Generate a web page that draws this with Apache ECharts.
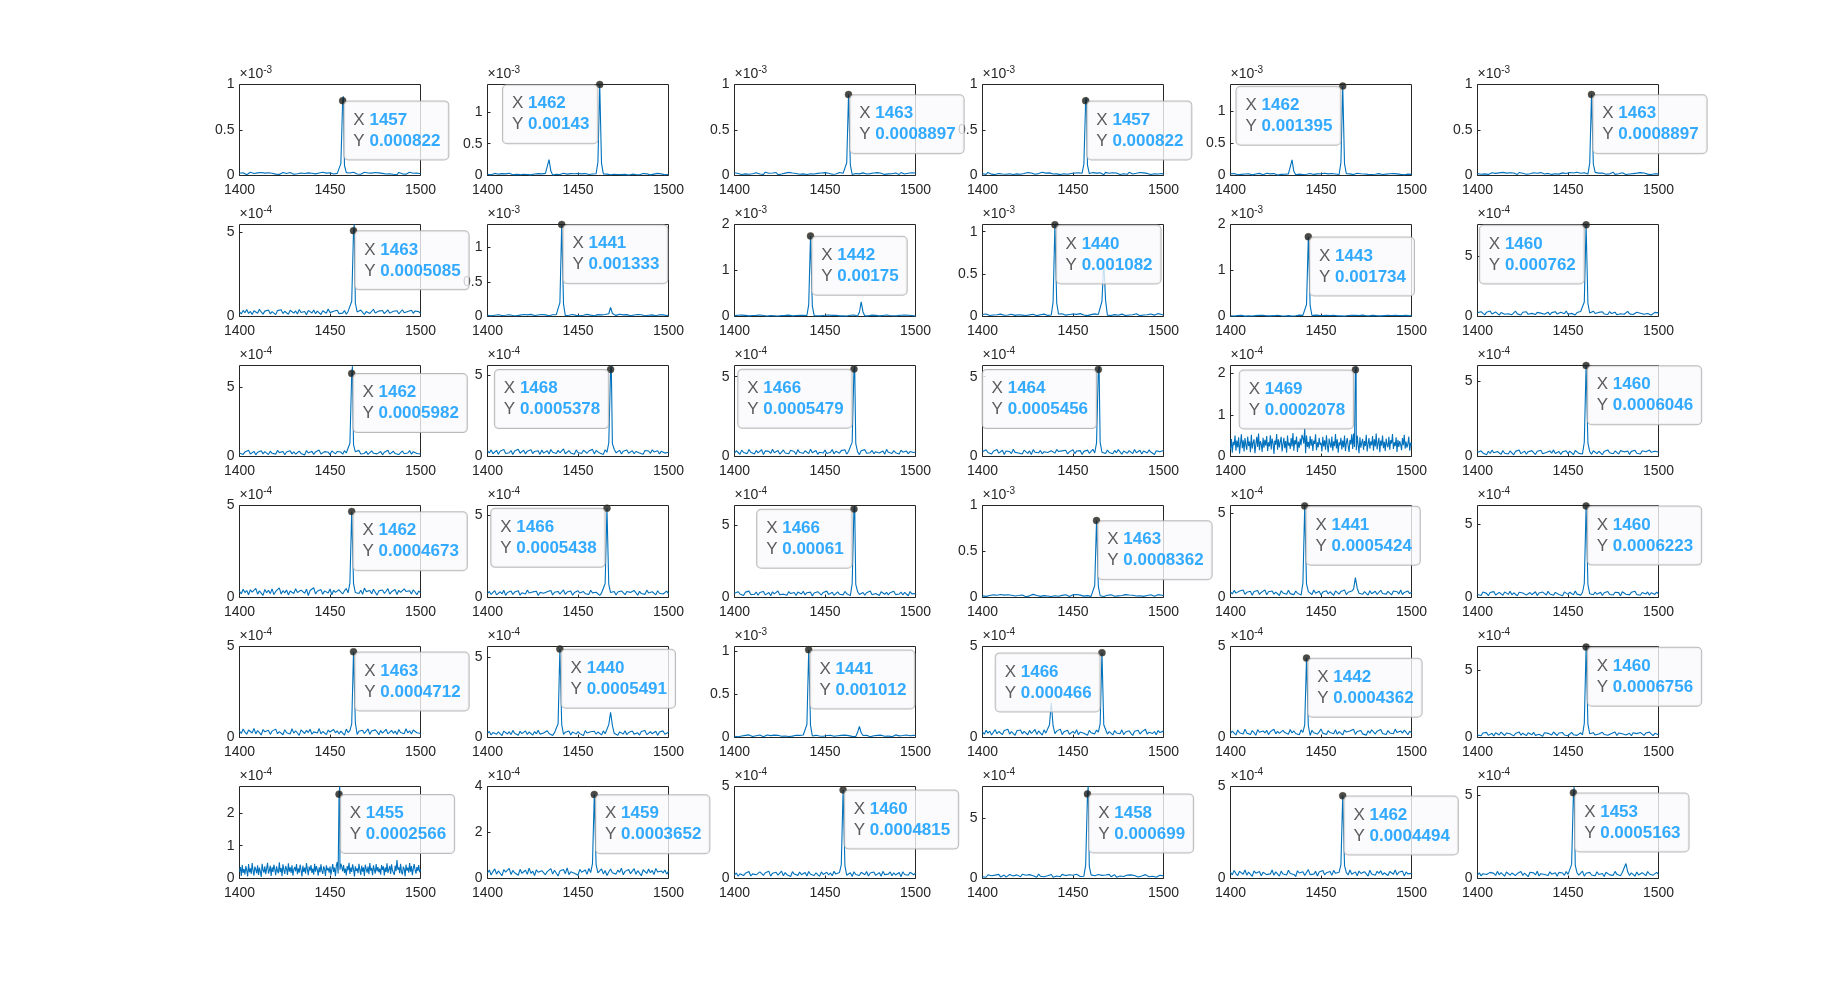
<!DOCTYPE html>
<html><head><meta charset="utf-8">
<script src="https://cdn.jsdelivr.net/npm/echarts@6/dist/echarts.min.js"></script>
<style>html,body{margin:0;padding:0;background:#fff}#c{width:1840px;height:986px}</style>
</head><body><div id="c"></div>
<script>
// ---------------- DATA ----------------
const xStart = 1400;            // first x of every noise array
const noiseStep = [1,1,1,1,1,1, 1,1,1,1,1,1, 1,1,1,1,0.5,1, 1,1,1,1,1,1, 1,1,1,1,1,1, 0.5,1,1,1,1,1];
const xMin = 1400, xMax = 1500, xStep = 50;
const tipX = [1457,1462,1463,1457,1462,1463, 1463,1441,1442,1440,1443,1460, 1462,1468,1466,1464,1469,1460, 1462,1466,1466,1463,1441,1460, 1463,1440,1441,1466,1442,1460, 1455,1459,1460,1458,1462,1453];
const tipY = [0.000822,0.00143,0.0008897,0.000822,0.001395,0.0008897, 0.0005085,0.001333,0.00175,0.001082,0.001734,0.000762, 0.0005982,0.0005378,0.0005479,0.0005456,0.0002078,0.0006046, 0.0004673,0.0005438,0.00061,0.0008362,0.0005424,0.0006223, 0.0004712,0.0005491,0.001012,0.000466,0.0004362,0.0006756, 0.0002566,0.0003652,0.0004815,0.000699,0.0004494,0.0005163];
const yExp = [-3,-3,-3,-3,-3,-3, -4,-3,-3,-3,-3,-4, -4,-4,-4,-4,-4,-4, -4,-4,-4,-3,-4,-4, -4,-4,-3,-4,-4,-4, -4,-4,-4,-4,-4,-4];
const yMax = [1e-3,1.43e-3,1e-3,1e-3,1.42e-3,1e-3, 5.45e-4,1.333e-3,2e-3,1.085e-3,2e-3,7.65e-4, 6.55e-4,5.62e-4,5.7e-4,5.7e-4,2.18e-4,6.05e-4, 5e-4,5.6e-4,6.35e-4,1e-3,5.45e-4,6.25e-4, 5e-4,5.65e-4,1.05e-3,5e-4,5e-4,6.8e-4, 2.8e-4,4e-4,5e-4,7.6e-4,5e-4,5.54e-4];
const yTickLabels = [
 [0,0.5,1],[0,0.5,1],[0,0.5,1],[0,0.5,1],[0,0.5,1],[0,0.5,1],
 [0,5],[0,0.5,1],[0,1,2],[0,0.5,1],[0,1,2],[0,5],
 [0,5],[0,5],[0,5],[0,5],[0,1,2],[0,5],
 [0,5],[0,5],[0,5],[0,0.5,1],[0,5],[0,5],
 [0,5],[0,5],[0,0.5,1],[0,5],[0,5],[0,5],
 [0,1,2],[0,2,4],[0,5],[0,5],[0,5],[0,5]];
// peak shoulders / secondary peaks, [x, value in 1e-6]
const bumps = [
 [[1456,130],[1457.4,870],[1458,110]],
 [[1461,210],[1463,190],[1433,60],[1434,250],[1435,70]],
 [[1462,140],[1464,120]],
 [[1456,125],[1457.4,860],[1458,115]],
 [[1461,200],[1462.4,1420],[1463,180],[1433,55],[1434,245],[1435,65]],
 [[1462,135],[1464,125]],
 [[1462,90],[1463.4,545],[1464,80]],
 [[1440,200],[1442,180],[1467,40],[1468,130],[1469,45]],
 [[1441,260],[1443,230],[1469,90],[1470,320],[1471,100]],
 [[1439,170],[1441,160],[1466,180],[1467,650],[1468,190]],
 [[1442,260],[1444,240]],
 [[1459,120],[1461,110]],
 [[1461,95],[1462.4,650],[1463,85]],
 [[1467,85],[1468.4,560],[1469,80]],
 [[1465,90],[1466.4,565],[1467,80]],
 [[1463,85],[1464.4,565],[1465,90]],
 [[1468,55],[1469.4,216],[1470,50],[1440,45],[1441,68],[1442,50]],
 [[1459,95],[1461,90]],
 [[1461,80],[1463,75]],
 [[1465,85],[1467,80]],
 [[1465,95],[1466.4,630],[1467,90]],
 [[1462,130],[1464,120]],
 [[1440,85],[1442,80],[1468,50],[1469,118],[1470,55]],
 [[1459,95],[1461,90]],
 [[1462,75],[1464,80]],
 [[1439,85],[1441,80],[1467,80],[1468,157],[1469,75]],
 [[1440,150],[1442,140],[1468,60],[1469,127],[1470,55]],
 [[1465,75],[1467,70],[1437,70],[1438,190],[1439,65]],
 [[1441,70],[1443,65]],
 [[1459,105],[1461,100]],
 [[1454,50],[1455.4,280],[1456,45]],
 [[1458,65],[1460,60]],
 [[1459,75],[1461,70]],
 [[1457,110],[1458.4,760],[1459,100]],
 [[1461,75],[1463,70]],
 [[1452,85],[1453.4,550],[1454,80],[1481,40],[1482,90],[1483,40]]];
// baseline noise, values in 1e-6, x = 1400 .. 1500
const n01=[24,13,31,18,9,27,35,16,22,11,29,20,33,14,26,10,30,19,25,37,15,23,12,28,34,17,21,8,32,26,14,30,19,11,27,36,22,16,29,13,24,33,18,10,28,21,35,15,26,12,31,20,17,34,23,9,29,25,14,32,19,27,11,36,22,16,30,13,24,35,18,28,10,26,21,33,15,29,12,23,37,17,25,20,31,14,27,9,34,22,18,30,13,26,35,16,24,11,28,21,19];
const n02=[17,29,12,25,33,15,21,9,30,19,26,14,34,22,11,28,18,32,13,24,20,35,16,27,10,31,23,14,29,18,25,12,33,21,16,28,9,26,19,30,14,24,36,17,22,11,29,20,27,13,32,18,25,10,30,21,15,34,23,12,27,19,31,14,26,17,22,35,11,28,20,33,16,24,13,29,18,30,9,25,21,34,15,27,12,23,31,17,26,19,10,28,22,14,33,18,25,30,13,24,20];
const n03=[30,14,22,35,11,26,18,32,13,27,20,9,31,24,16,29,12,36,19,25,14,28,21,33,10,23,17,30,26,12,34,19,27,15,22,37,13,29,18,24,11,31,20,26,16,35,23,10,28,19,32,14,25,21,13,30,17,27,33,12,24,20,36,15,28,11,26,22,31,18,13,29,24,16,34,21,10,27,19,32,15,25,30,12,23,18,35,20,14,28,26,11,33,22,17,29,24,13,31,19,27];
const n04=[19,28,12,34,23,15,30,10,26,21,33,16,24,13,29,20,36,11,27,18,31,14,25,22,9,32,17,28,24,13,30,21,15,35,19,26,12,29,23,16,34,18,27,10,31,20,25,14,33,22,11,28,19,30,16,24,36,13,27,21,15,32,18,26,12,29,23,9,34,20,25,17,31,14,28,22,11,30,19,26,13,35,21,16,27,24,12,33,18,29,15,23,31,10,26,20,34,17,28,22,14];
const n05=[26,15,32,20,11,29,17,34,23,13,28,19,10,31,24,16,33,21,12,27,35,18,25,14,30,22,9,28,17,33,20,13,26,31,16,24,11,29,21,34,15,27,19,12,32,23,17,30,25,10,28,20,35,14,26,18,31,13,24,29,16,22,33,11,27,19,25,30,14,21,34,17,28,12,23,31,18,26,15,32,20,10,29,24,16,33,22,13,27,19,30,14,25,35,18,23,12,28,21,31,17];
const n06=[21,32,14,27,18,35,12,25,30,16,23,10,29,20,34,15,26,19,31,13,28,22,11,33,17,24,36,14,27,20,9,30,18,25,13,32,21,16,28,23,34,12,26,19,31,15,24,29,11,22,17,33,20,27,14,36,18,25,12,30,23,16,29,21,10,34,19,26,15,28,22,13,31,18,25,35,12,27,20,16,30,24,11,29,17,33,21,14,26,19,32,13,28,23,15,30,10,25,20,34,18];
const n07=[28,15,36,22,41,18,30,12,34,25,19,43,27,14,32,21,38,16,29,24,11,35,26,40,17,31,22,13,37,28,20,33,15,42,24,18,30,10,36,27,21,39,16,32,25,12,34,29,19,44,23,14,31,26,37,17,28,20,35,13,30,41,22,16,33,27,19,38,24,12,29,35,18,26,43,21,15,32,28,36,17,24,39,20,13,31,27,34,16,25,40,22,11,30,26,37,19,33,23,29,18];
const n08=[16,24,11,28,19,9,26,21,14,30,18,12,25,33,15,22,10,27,20,13,29,17,24,8,31,19,14,26,22,11,28,16,23,30,12,20,25,9,27,18,15,32,21,13,26,19,11,29,23,16,24,10,28,17,22,31,14,20,26,12,19,27,15,23,9,30,18,25,13,21,28,16,11,33,20,24,14,27,19,10,26,22,17,29,13,25,21,12,31,18,15,24,28,11,20,26,16,23,30,14,19];
const n09=[20,12,27,16,30,10,24,19,14,28,22,9,25,17,31,13,21,26,11,29,18,23,15,32,12,27,20,16,24,10,30,19,13,26,22,8,28,17,25,14,21,31,11,23,18,27,15,29,20,12,26,16,33,19,24,10,28,22,14,30,17,25,12,21,27,15,31,18,9,24,20,28,13,26,16,22,30,11,25,19,14,29,23,17,32,12,21,27,15,24,18,10,26,20,31,13,28,16,22,25,11];
const n10=[23,14,30,19,11,27,17,33,21,12,28,24,15,31,18,9,26,22,13,29,20,34,16,25,12,30,19,23,27,14,10,32,21,17,28,24,13,31,18,26,15,22,29,11,33,20,16,27,23,12,30,19,25,14,34,21,17,28,10,26,22,15,31,18,24,29,13,27,20,16,33,11,25,22,30,14,19,28,24,12,31,17,26,21,15,32,23,10,29,18,25,20,13,30,27,16,22,34,19,24,14];
const n11=[15,22,10,27,18,13,25,20,8,28,17,23,12,29,19,14,26,11,24,21,16,30,13,22,18,9,27,20,15,25,12,28,19,23,10,26,17,21,29,14,24,11,20,27,16,22,13,30,18,25,9,23,19,28,15,21,12,26,24,17,29,14,20,11,27,22,16,25,13,28,18,23,10,30,21,15,26,19,12,24,27,17,22,14,29,20,11,25,18,23,16,28,13,21,26,19,10,24,22,15,20];
const n12=[32,18,40,25,14,36,28,45,21,17,38,26,12,33,42,19,29,23,37,15,31,44,22,27,13,35,24,39,18,30,26,41,16,34,21,28,43,19,25,36,14,32,27,40,20,17,35,29,23,46,18,31,26,38,13,33,22,42,28,16,37,24,30,19,44,25,15,34,27,39,21,32,17,41,24,28,36,14,30,23,38,19,26,43,22,33,16,29,35,20,27,40,18,31,25,37,13,28,34,22,30];
const n13=[26,40,15,33,22,45,18,29,37,12,31,24,42,19,35,27,14,38,23,30,17,44,28,21,36,13,32,25,41,19,34,16,27,39,22,30,11,43,26,20,37,15,33,28,46,18,24,35,21,31,14,40,27,19,36,23,32,16,42,25,29,20,38,13,34,26,44,18,30,22,37,15,28,41,24,33,19,27,36,12,31,23,45,17,29,38,21,34,14,26,40,20,32,25,43,16,35,28,22,30,18];
const n14=[35,22,41,17,29,38,14,32,26,44,19,30,23,37,12,34,27,45,20,28,39,16,33,24,42,18,31,25,36,13,40,21,29,35,15,43,26,32,19,38,23,30,47,17,27,36,22,33,14,41,25,31,18,39,28,20,34,24,44,16,37,29,21,32,13,42,26,35,19,30,45,23,28,38,15,33,24,40,20,27,36,17,31,43,22,29,14,37,25,34,19,41,28,23,35,16,32,44,21,30,26];
const n15=[21,36,28,14,40,25,33,18,44,27,31,16,38,23,29,42,12,35,26,32,19,45,24,30,37,15,28,41,22,34,17,39,27,31,13,43,25,33,20,36,29,18,46,24,32,38,14,27,35,22,40,19,30,26,44,16,33,28,21,37,25,42,15,31,23,39,18,34,29,12,36,27,43,20,32,24,38,17,30,41,22,28,35,14,45,26,33,19,37,24,30,16,40,27,22,34,18,31,39,25,28];
const n16=[30,19,42,25,36,15,33,27,44,21,28,39,13,34,24,31,18,45,26,37,22,29,16,40,32,20,35,12,43,27,33,23,38,17,30,41,25,14,36,28,21,44,31,19,35,26,39,16,29,23,42,18,34,27,37,13,32,24,40,20,30,45,22,28,15,36,26,33,19,41,25,31,17,38,23,43,29,14,35,27,20,37,32,18,44,24,30,39,16,34,26,22,41,28,33,13,36,25,30,19,38];
const n17=[18,42,9,35,27,50,14,38,22,46,7,31,53,20,39,12,44,28,16,48,25,36,10,52,19,33,41,8,29,47,23,55,15,37,30,11,45,21,40,26,49,13,34,24,51,17,43,32,6,38,28,54,16,41,22,35,47,12,30,45,20,37,9,50,26,33,18,44,24,56,14,39,29,48,11,36,21,43,27,52,17,31,46,8,40,23,35,19,49,26,42,13,38,30,53,15,34,22,45,28,33,12,47,24,39,16,51,27,10,43,30,21,48,14,36,25,54,19,41,9,34,27,45,17,38,22,50,13,32,44,26,11,40,29,53,18,35,23,47,15,39,28,8,46,21,33,42,16,37,25,52,12,30,44,19,36,27,49,14,41,24,55,17,32,45,10,38,26,50,20,35,13,43,28,22,47,16,39,31,54,18,34,25,46,11,40,23,37,29,15,44,27,52,19,36,21,30,48,14,33,26];
const n18=[27,16,38,23,31,12,35,20,42,25,18,33,28,14,40,22,30,17,37,26,11,34,24,43,19,29,36,15,32,21,39,27,13,35,23,41,18,30,26,16,37,22,44,20,28,33,14,31,25,38,19,36,24,12,40,27,21,34,17,29,42,23,32,15,38,26,19,35,28,13,33,21,44,25,30,18,37,24,16,39,27,31,20,36,14,34,26,41,22,29,17,38,25,32,19,43,28,15,35,23,30];
const n19=[34,20,45,27,38,15,42,29,24,50,18,36,31,12,44,26,39,21,47,16,33,28,52,19,37,25,41,14,35,30,22,48,27,17,40,32,23,45,11,38,29,53,20,34,26,43,18,36,31,24,46,15,39,28,21,42,33,19,37,49,25,30,14,44,27,35,22,40,17,51,32,24,38,20,45,29,13,36,27,41,23,34,48,18,31,26,43,16,39,28,21,47,33,25,37,19,42,30,15,35,27];
const n20=[24,37,19,31,42,16,28,35,22,44,13,30,26,39,18,33,25,41,14,29,36,21,45,27,17,34,23,38,12,31,40,26,19,35,28,43,15,32,24,37,20,29,46,18,33,25,39,14,30,22,41,27,16,36,23,34,19,44,28,21,32,38,13,27,35,24,42,18,30,26,37,15,33,22,40,29,17,36,25,31,20,43,28,14,38,24,33,19,45,27,22,35,30,16,41,26,34,21,29,39,23];
const n21=[29,17,40,24,33,13,37,26,44,20,31,22,38,15,35,28,42,18,27,34,12,39,25,30,45,19,32,23,36,16,41,27,21,34,14,38,29,24,43,18,33,26,37,11,31,22,40,28,17,35,25,44,20,30,36,15,27,39,23,32,18,42,26,34,13,38,24,30,41,21,28,35,16,33,25,45,19,31,27,37,14,40,29,22,36,18,33,26,43,20,30,24,38,17,35,28,12,41,25,32,27];
const n22=[18,27,12,31,22,15,29,10,25,20,33,14,26,19,30,11,24,28,16,32,21,13,27,23,9,30,18,25,34,15,22,29,12,26,20,31,17,24,11,28,19,33,14,27,23,16,30,21,10,25,29,18,32,13,26,22,15,31,20,27,12,24,34,17,28,19,23,11,30,25,16,29,21,14,33,18,26,22,13,31,20,27,10,24,30,16,28,19,25,12,32,21,17,29,23,14,26,31,18,24,20];
const n23=[33,21,42,26,15,38,29,44,19,31,24,37,13,35,27,41,18,30,22,45,16,34,28,39,20,32,25,12,40,27,36,19,43,23,30,17,38,26,33,14,41,28,22,35,31,18,44,25,29,37,15,32,24,40,21,34,27,13,39,30,20,36,26,45,17,31,23,38,28,16,42,25,33,19,35,29,14,40,22,31,37,18,27,43,24,32,20,36,26,15,39,28,34,21,44,17,30,25,38,23,31];
const n24=[20,31,14,37,25,28,12,34,22,40,17,29,35,24,15,38,27,21,43,18,32,26,11,36,23,30,41,16,28,34,19,25,39,13,31,22,37,27,17,42,24,30,15,35,28,20,33,12,38,26,21,36,29,18,44,23,31,16,34,27,13,40,25,30,19,37,22,28,35,14,32,26,41,20,29,17,36,24,33,11,39,27,22,31,18,35,25,43,20,30,15,34,28,23,38,16,32,26,21,37,25];
const n25=[36,22,47,29,18,41,33,25,50,20,38,27,14,44,31,23,40,17,35,28,46,21,32,39,15,43,26,30,19,48,24,37,28,12,42,34,22,39,27,45,18,31,36,25,49,20,33,28,16,41,30,23,44,26,37,19,35,29,13,46,27,38,21,32,43,17,34,25,40,22,29,47,18,36,26,42,31,15,38,24,33,45,20,28,39,23,35,16,44,27,30,21,48,25,37,19,41,32,26,34,22];
const n26=[25,38,16,31,43,20,35,27,12,40,29,22,36,18,44,26,33,14,39,24,30,41,19,34,27,15,37,23,45,21,32,28,17,42,25,36,13,30,38,22,27,44,19,33,26,40,15,35,29,21,37,24,31,12,43,28,18,36,25,39,20,34,30,16,41,23,27,45,19,32,26,38,14,35,28,22,42,17,31,24,40,21,33,29,15,37,26,44,18,30,36,23,27,39,13,34,25,41,20,28,32];
const n27=[14,23,9,27,18,12,25,20,30,16,11,26,21,15,28,19,8,24,29,13,22,17,27,10,25,20,14,30,18,23,12,28,16,21,26,9,24,19,29,15,22,13,27,18,11,25,30,17,20,14,28,23,10,26,19,15,29,21,12,24,18,27,16,22,30,13,25,11,20,28,17,23,14,26,19,9,29,21,16,24,12,27,20,15,28,18,25,10,22,30,14,19,26,23,13,28,17,21,11,25,20];
const n28=[31,18,40,24,35,14,29,43,21,33,26,16,38,28,45,19,32,23,12,37,27,41,20,34,25,15,39,22,30,44,17,36,28,13,42,24,33,19,38,26,21,35,29,46,16,31,25,40,18,27,34,22,43,15,30,37,23,28,12,39,26,33,20,41,29,17,36,24,44,19,32,27,14,38,25,35,21,42,16,30,28,37,23,11,34,26,40,19,31,24,45,18,29,36,22,33,15,39,27,20,35];
const n29=[22,35,28,14,41,26,33,19,46,24,30,17,38,27,12,43,29,21,36,25,40,16,32,28,45,20,34,23,13,39,27,31,18,44,25,36,22,30,15,42,28,20,37,33,11,40,26,35,19,31,47,24,29,16,38,27,34,21,43,18,32,25,14,41,30,22,36,28,45,17,33,26,39,20,29,13,37,24,42,31,19,35,27,44,22,30,16,38,25,33,21,46,28,18,36,24,40,29,15,34,27];
const n30=[18,29,13,34,22,38,16,27,31,11,36,24,19,40,26,15,33,21,28,37,12,30,25,42,17,32,23,14,35,27,20,39,16,29,24,33,10,36,22,31,26,18,41,28,15,34,23,37,19,30,13,27,38,21,32,16,25,35,20,29,40,14,28,23,36,18,31,26,12,39,22,33,17,27,30,24,41,15,34,21,28,37,19,25,32,13,36,23,29,18,38,26,16,33,22,40,27,14,31,24,20];
const n31=[22,35,8,41,17,29,12,38,25,6,44,19,31,14,47,23,9,36,27,16,40,11,33,21,5,45,26,18,37,13,30,48,15,24,39,8,34,20,42,28,10,37,23,16,49,19,32,7,43,26,14,38,29,11,46,21,34,17,40,9,27,35,22,44,13,31,18,42,25,6,39,20,33,15,47,28,10,36,24,41,17,30,12,45,21,38,26,9,34,19,43,23,14,37,29,8,40,25,32,18,36,11,28,44,20,33,7,39,24,15,46,27,12,35,22,41,17,30,9,38,25,48,14,33,20,43,28,6,37,23,31,16,45,26,11,39,21,34,8,42,29,18,36,13,47,24,32,10,40,27,15,44,22,35,19,30,12,41,26,37,9,33,20,46,17,28,38,14,43,25,31,11,39,22,56,27,34,16,45,20,12,36,29,7,42,24,33,18,47,21,38,10,30,44,26,15,35,23,41,19,28];
const n32=[24,37,15,30,42,19,33,26,12,39,28,21,44,17,35,25,31,14,40,23,29,36,18,45,22,32,13,38,27,20,34,41,16,30,24,43,19,36,28,11,33,25,39,21,46,17,29,35,23,31,14,40,27,22,37,18,44,26,32,15,38,24,30,42,20,35,13,28,41,25,33,19,36,27,45,16,31,23,39,21,29,43,18,34,26,12,38,30,22,41,25,35,17,44,28,20,33,24,37,19,31];
const n33=[19,30,12,26,35,16,28,22,38,14,25,33,20,10,36,27,17,31,24,39,13,29,22,34,18,26,40,15,32,21,28,11,37,24,30,17,35,20,27,33,14,38,23,29,16,31,25,12,36,22,27,34,19,30,15,39,24,21,33,13,28,36,18,25,31,11,37,22,29,16,34,26,20,38,14,30,23,35,17,27,32,12,39,21,28,24,36,15,31,19,25,33,10,37,22,29,18,34,26,20,30];
const n34=[15,26,10,31,19,23,8,28,17,34,13,22,29,11,25,33,18,21,9,30,24,14,35,20,27,12,32,16,23,28,10,36,19,25,14,30,22,17,33,11,26,21,29,15,34,18,24,9,31,20,27,13,35,22,16,28,19,32,12,25,30,17,23,14,33,21,26,10,29,18,34,15,24,31,11,27,20,36,16,22,28,13,30,19,25,33,12,26,21,17,32,23,14,29,19,35,11,24,27,18,22];
const n35=[33,20,44,27,16,39,30,23,47,18,35,26,12,41,29,22,38,15,34,43,21,31,25,46,17,36,28,13,40,24,32,19,45,27,35,22,11,42,30,26,37,16,33,48,21,29,24,39,14,35,27,43,20,31,25,38,17,44,28,22,34,12,40,26,32,19,46,23,30,36,15,41,27,21,37,29,13,45,24,33,18,39,28,42,20,31,26,16,38,30,23,47,19,34,27,40,14,36,25,32,28];
const n36=[21,34,16,29,40,24,13,37,27,31,18,43,22,35,26,14,39,28,20,33,36,17,30,25,42,19,32,23,11,38,27,34,21,44,15,29,36,24,31,18,40,26,22,35,13,37,28,33,19,42,25,30,16,39,23,34,20,27,44,14,32,26,37,21,29,17,41,24,35,30,12,38,27,22,33,19,43,25,31,16,36,23,40,28,18,34,26,14,39,21,30,35,24,17,42,27,33,20,28,37,25];
const noise = [n01,n02,n03,n04,n05,n06,n07,n08,n09,n10,n11,n12,n13,n14,n15,n16,n17,n18,n19,n20,n21,n22,n23,n24,n25,n26,n27,n28,n29,n30,n31,n32,n33,n34,n35,n36];

// ---------------- LAYOUT / STYLE ----------------
const tipOnLeft = [0,1,0,0,1,0, 0,0,0,0,0,1, 0,1,1,1,1,0, 0,1,1,0,0,0, 0,0,0,1,0,0, 0,0,0,0,0,0];
const FONT = '"Liberation Sans", Arial, Helvetica, sans-serif';
const INK = '#262626';
const LINE = '#0072BD';
const MICRO = 1e-6;

function buildLine(k) {
  const pts = new Map();
  noise[k].forEach((v, i) => pts.set(xStart + i * noiseStep[k], v * MICRO));
  bumps[k].forEach(([x, v]) => pts.set(x, v * MICRO));
  pts.set(tipX[k], tipY[k]);
  return [...pts.entries()].sort((a, b) => a[0] - b[0]);
}

const grids = [], xAxes = [], yAxes = [], series = [];
for (let k = 0; k < 36; k++) {
  const r = Math.floor(k / 6), c = k % 6;
  const left = Math.round(239.2 + c * 247.6) + 0.5;
  const top = Math.round(83.6 + r * 140.5) + 0.5;
  const bottom = Math.round(175.1 + r * 140.5) + 0.5;
  grids.push({ left, top, width: 181, height: bottom - top, show: true,
    borderColor: INK, borderWidth: 1, backgroundColor: 'transparent' });
  xAxes.push({ type: 'value', gridIndex: k, min: xMin, max: xMax, interval: xStep,
    axisLine: { show: false }, splitLine: { show: false },
    axisTick: { show: true, inside: true, length: 3, lineStyle: { color: INK } },
    axisLabel: { color: INK, fontSize: 14, fontFamily: FONT, margin: 8, hideOverlap: false,
      formatter: v => String(v) } });
  const scale = Math.pow(10, yExp[k]);
  const ticks = yTickLabels[k].map(t => t * scale);
  yAxes.push({ type: 'value', gridIndex: k, min: 0, max: yMax[k],
    axisLine: { show: false }, splitLine: { show: false },
    axisTick: { show: true, inside: true, length: 3, customValues: ticks, lineStyle: { color: INK } },
    axisLabel: { customValues: ticks, color: INK, fontSize: 14, fontFamily: FONT, margin: 5,
      formatter: v => String(+(v / scale).toPrecision(4)) },
    name: '×10{e|' + yExp[k] + '}', nameLocation: 'end', nameGap: 2,
    nameTextStyle: { color: INK, fontSize: 14, fontFamily: FONT, align: 'left', verticalAlign: 'bottom',
      lineHeight: 17, rich: { e: { fontSize: 10, fontFamily: FONT, color: INK, verticalAlign: 'top', lineHeight: 10 } } } });
  series.push({ type: 'line', xAxisIndex: k, yAxisIndex: k, data: buildLine(k), symbol: 'none',
    lineStyle: { color: LINE, width: 1.1 }, silent: true, z: 2, animation: false });
  const L = tipOnLeft[k] === 1;
  series.push({ type: 'scatter', xAxisIndex: k, yAxisIndex: k, data: [[tipX[k], tipY[k]]],
    symbol: 'circle', symbolSize: 7, itemStyle: { color: '#1c1c1a', borderColor: '#4a4632', borderWidth: 0.6 },
    silent: true, z: 10, animation: false, clip: false,
    label: { show: true, position: L ? [1.5, 4.5] : [5.5, 4.5], align: L ? 'right' : 'left', verticalAlign: 'top',
      formatter: '{k|X }{v|' + tipX[k] + '}\n{k|Y }{v|' + tipY[k] + '}',
      backgroundColor: '#fafafc', borderColor: '#a9a9a9', borderWidth: 1, borderRadius: 4,
      padding: [8, 8, 8, 9], fontSize: 17,
      rich: {
        k: { fontSize: 17, fontFamily: FONT, color: '#333333', lineHeight: 21, align: 'left' },
        v: { fontSize: 17, fontFamily: FONT, fontWeight: 'bold', color: '#0096ff', lineHeight: 21, align: 'left' } } } });
}

const chart = echarts.init(document.getElementById('c'), null, { renderer: 'canvas' });
chart.setOption({ backgroundColor: '#ffffff', animation: false, grid: grids, xAxis: xAxes, yAxis: yAxes, series });
</script></body></html>
